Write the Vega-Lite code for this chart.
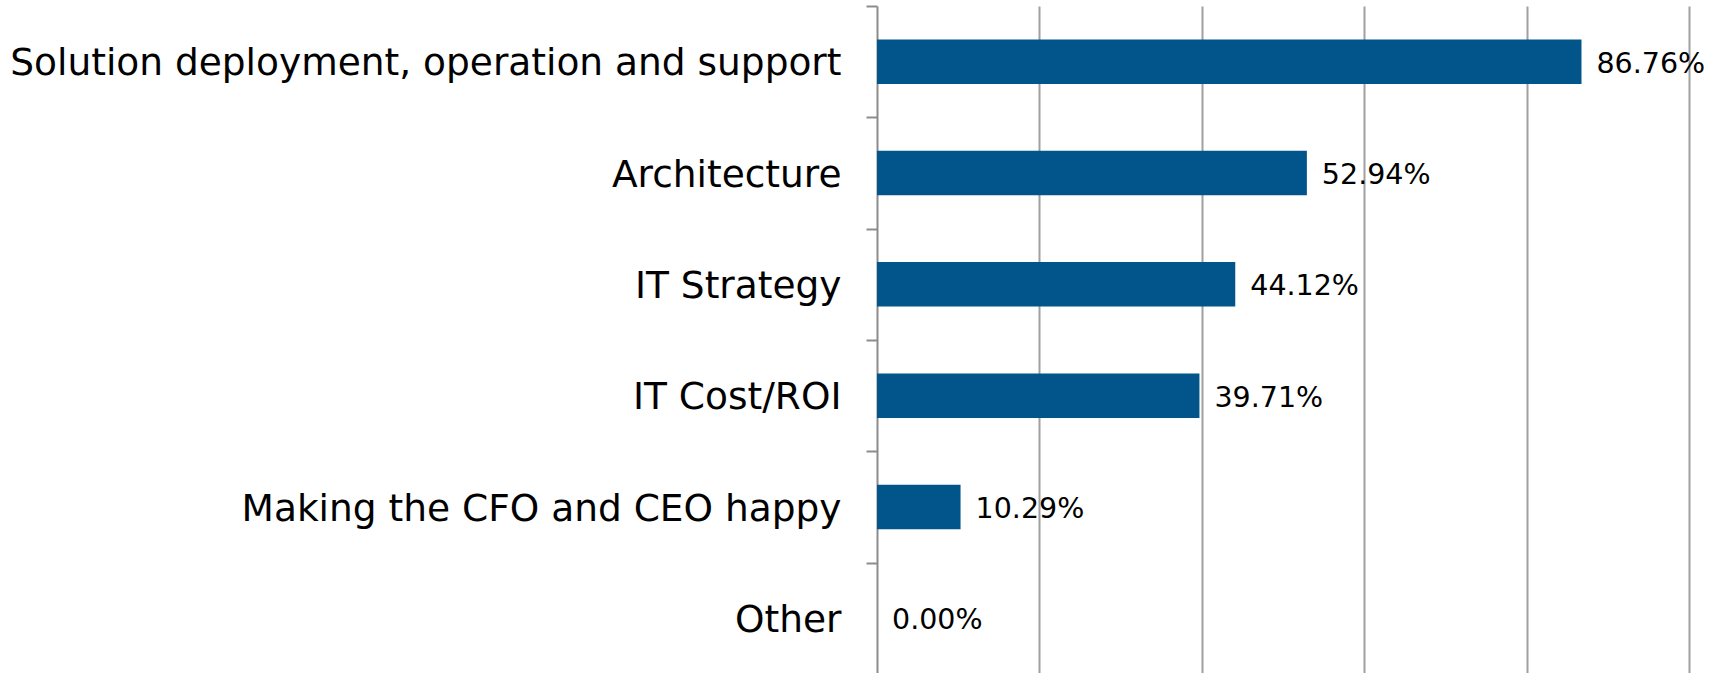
{
  "$schema": "https://vega.github.io/schema/vega-lite/v6.json",
  "autosize": {"type": "none"},
  "padding": {"left": 877, "top": 6, "right": 28, "bottom": 0},
  "width": 812,
  "height": 668,
  "background": "white",
  "data": {"values": [
    {"category": "Solution deployment, operation and support", "share": 0.8676},
    {"category": "Architecture", "share": 0.5294},
    {"category": "IT Strategy", "share": 0.4412},
    {"category": "IT Cost/ROI", "share": 0.3971},
    {"category": "Making the CFO and CEO happy", "share": 0.1029},
    {"category": "Other", "share": 0.0}
  ]},
  "encoding": {
    "y": {
      "field": "category", "type": "nominal", "sort": null,
      "scale": {"paddingInner": 0, "paddingOuter": 0},
      "axis": {
        "title": null, "tickBand": "extent", "grid": false,
        "domainColor": "#8c8c8c", "domainWidth": 2,
        "tickColor": "#8c8c8c", "tickWidth": 2, "tickSize": 11,
        "labelFont": "DejaVu Sans", "labelFontSize": 37.5, "labelColor": "#000000",
        "labelPadding": 25, "labelLimit": 0, "labelOffset": 2
      }
    },
    "x": {
      "field": "share", "type": "quantitative",
      "scale": {"domain": [0, 1], "nice": false, "zero": true},
      "axis": {
        "title": null, "labels": false, "ticks": false, "domain": false,
        "values": [0.2, 0.4, 0.6, 0.8, 1.0],
        "grid": true, "gridColor": "#a0a0a0", "gridWidth": 2
      }
    }
  },
  "layer": [
    {
      "mark": {"type": "bar", "height": {"band": 0.4}, "color": "#02558A"}
    },
    {
      "mark": {"type": "text", "align": "left", "baseline": "middle", "dx": 15, "dy": 2, "font": "DejaVu Sans", "fontSize": 28.5, "color": "#000000"},
      "encoding": {"text": {"field": "share", "type": "quantitative", "format": ".2%"}}
    }
  ],
  "config": {"view": {"stroke": null}}
}
